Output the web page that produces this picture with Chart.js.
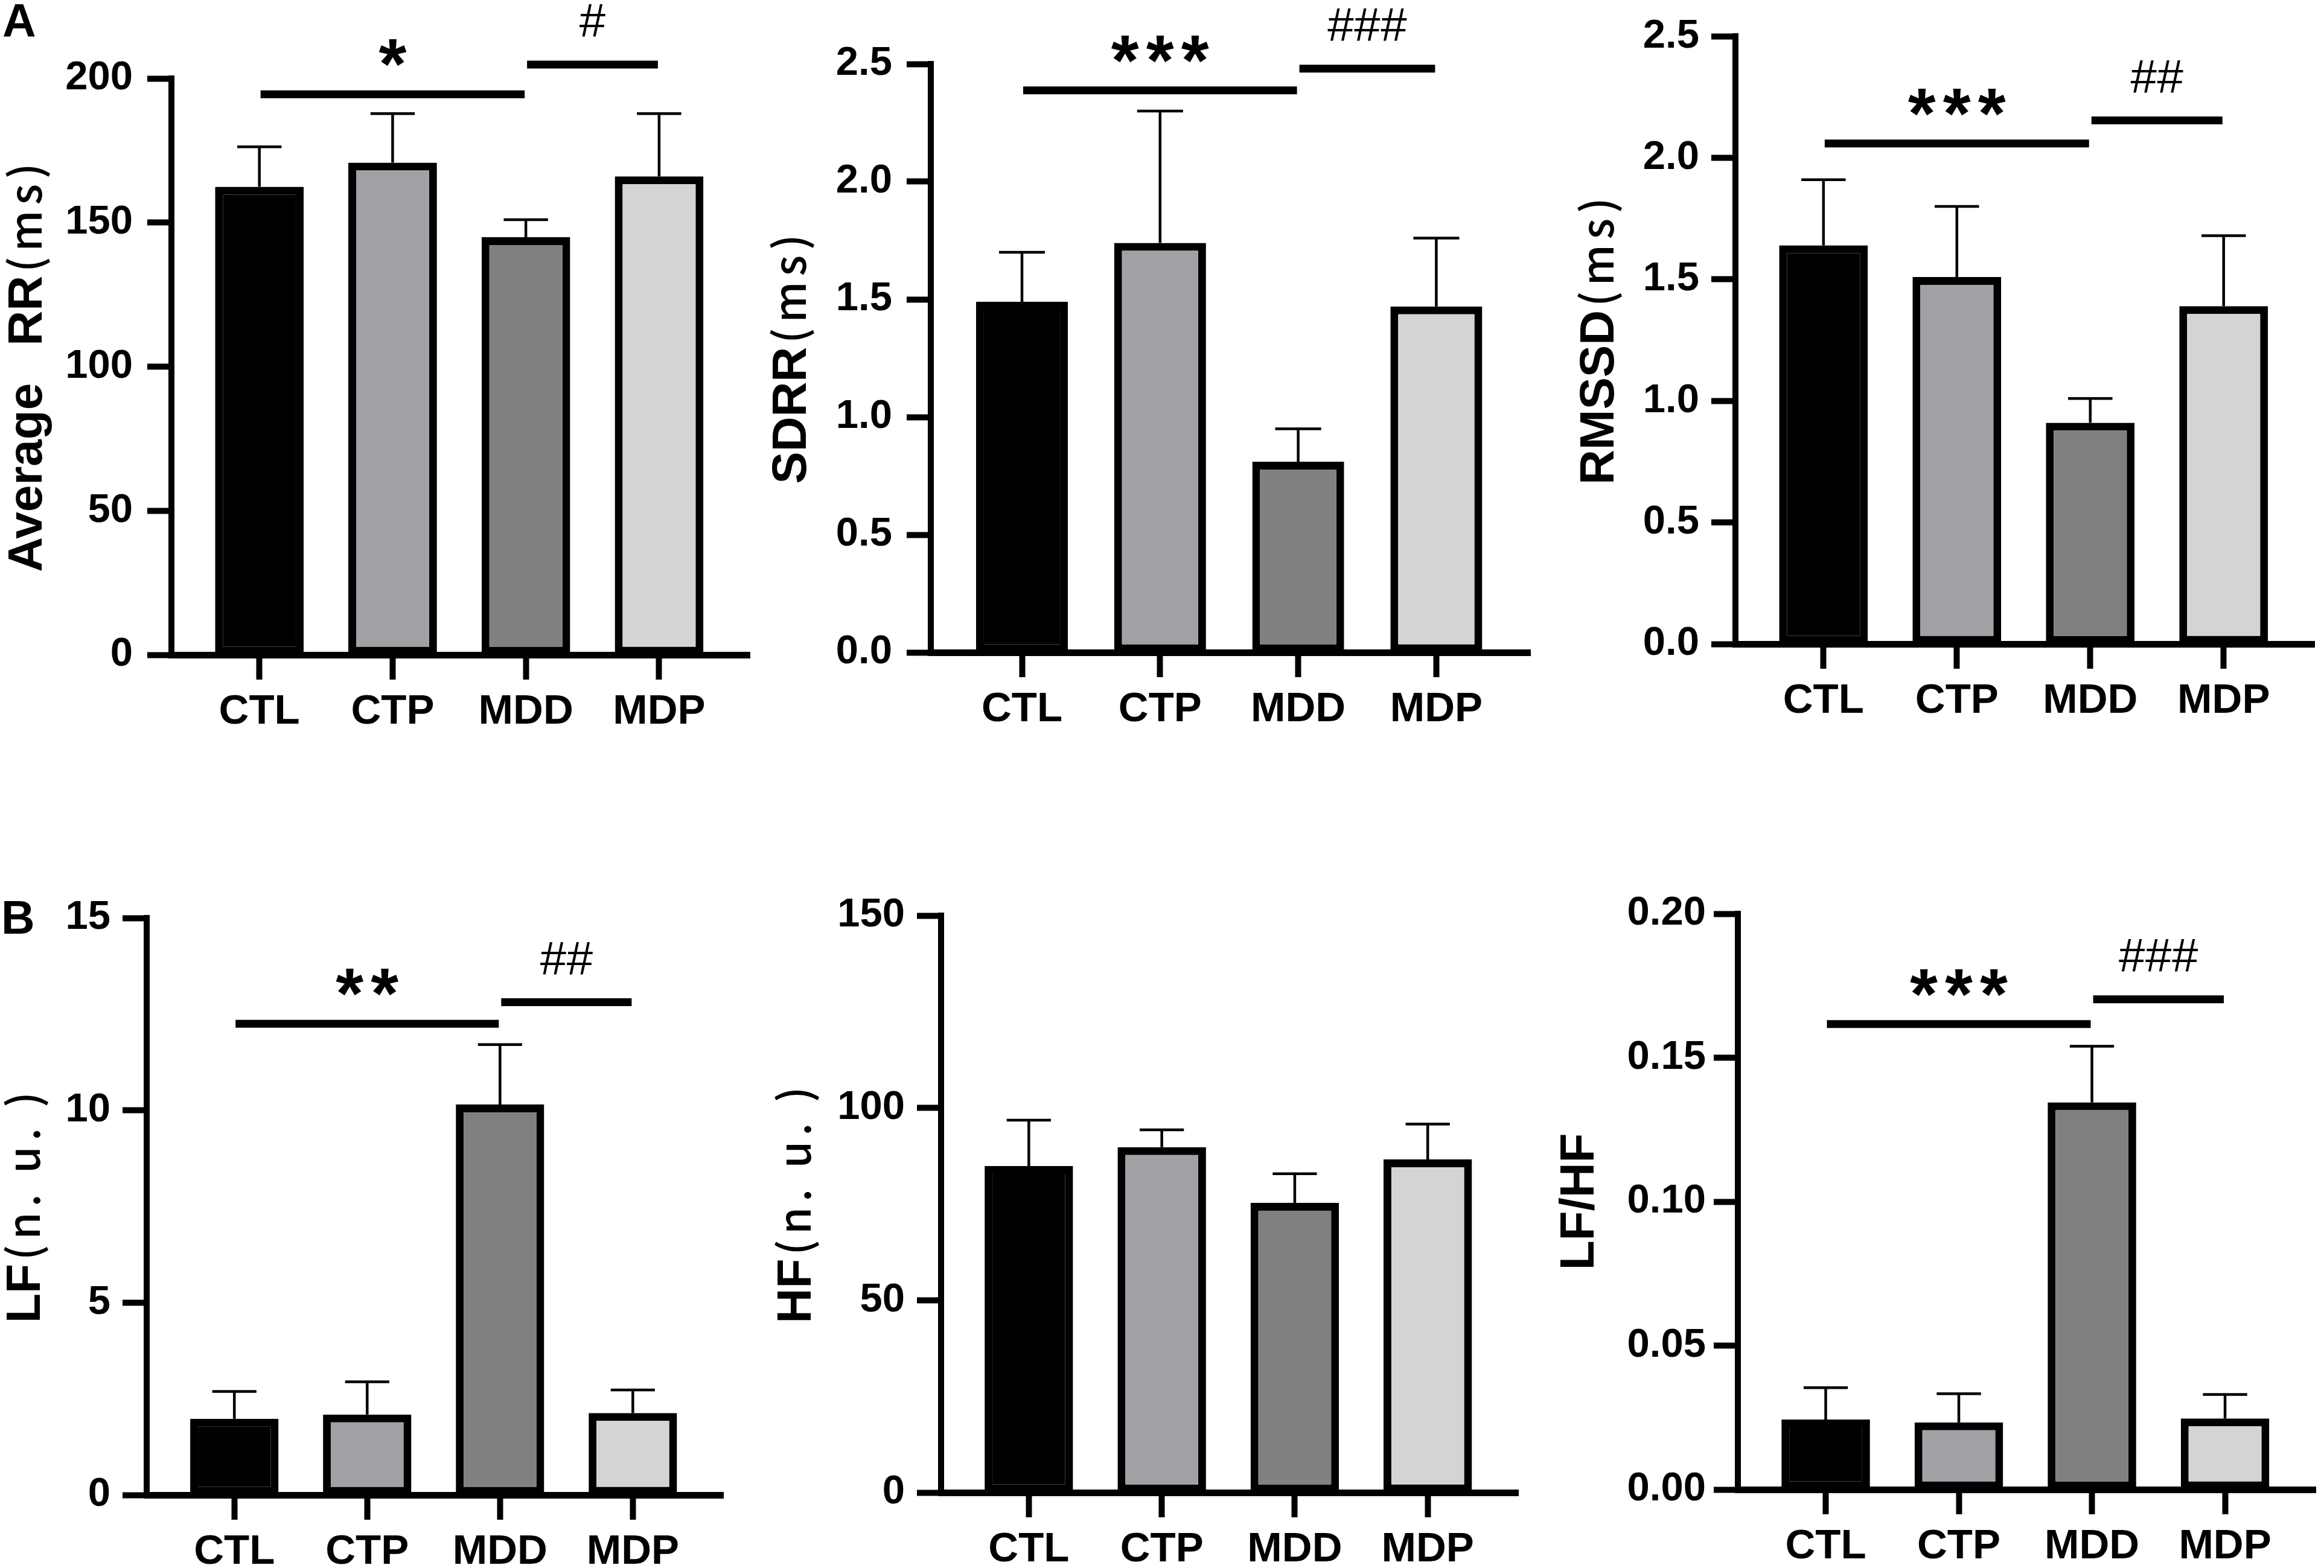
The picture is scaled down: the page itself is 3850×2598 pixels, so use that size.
<!DOCTYPE html>
<html>
<head>
<meta charset="utf-8">
<script src="https://cdn.jsdelivr.net/npm/chart.js@4.4.1/dist/chart.umd.min.js"></script>
<style>
    html, body { margin: 0; padding: 0; background: #fff; }
    #fig { position: relative; width: 3850px; height: 2598px; background: #fff; overflow: hidden; }
    #fig canvas { position: absolute; }
    .tag { position: absolute; font: bold 77px "Liberation Sans", Arial, sans-serif; line-height: 1; color: #000; }
</style>
</head>
<body>
<div id="fig">
    <div class="tag" style="left:4px;top:-4px">A</div>
    <div class="tag" style="left:2px;top:1482px">B</div>
</div>
<script>
// grupos e cores
const groups = ["CTL", "CTP", "MDD", "MDP"];
const fills = ["#000000", "#a1a1a5", "#808080", "#d4d4d4"];

// valores (média e desvio, só a barra de cima)
const avgRR = [162.4, 170.8, 144.9, 166.0];
const avgRRSd = [13.9, 17.0, 6.1, 21.8];
const avgRRTicks = [0, 50, 100, 150, 200];
const avgRRSig = [
    { from: 0, to: 2, y: 194.5, text: "*" },
    { from: 2, to: 3, y: 204.8, text: "#" },
];

const sdrr = [1.49, 1.74, 0.81, 1.47];
const sdrrSd = [0.21, 0.56, 0.14, 0.29];
const sdrrTicks = [0, 0.5, 1.0, 1.5, 2.0, 2.5];
const sdrrSig = [
    { from: 0, to: 2, y: 2.388, text: "***" },
    { from: 2, to: 3, y: 2.48, text: "###" },
];

const rmssd = [1.64, 1.51, 0.91, 1.39];
const rmssdSd = [0.27, 0.29, 0.10, 0.29];
const rmssdTicks = [0, 0.5, 1.0, 1.5, 2.0, 2.5];
const rmssdSig = [
    { from: 0, to: 2, y: 2.059, text: "***" },
    { from: 2, to: 3, y: 2.154, text: "##" },
];

const lf = [1.98, 2.09, 10.15, 2.13];
const lfSd = [0.71, 0.85, 1.56, 0.60];
const lfTicks = [0, 5, 10, 15];
const lfSig = [
    { from: 0, to: 2, y: 12.25, text: "**" },
    { from: 2, to: 3, y: 12.81, text: "##" },
];

const hf = [84.9, 89.8, 75.3, 86.6];
const hfSd = [11.9, 4.5, 7.6, 9.2];
const hfTicks = [0, 50, 100, 150];
const hfSig = [];

const lfhf = [0.0243, 0.0233, 0.1345, 0.0247];
const lfhfSd = [0.0111, 0.0100, 0.0195, 0.0083];
const lfhfTicks = [0, 0.05, 0.10, 0.15, 0.20];
const lfhfSig = [
    { from: 0, to: 2, y: 0.1617, text: "***" },
    { from: 2, to: 3, y: 0.1703, text: "###" },
];

// títulos do eixo y: [texto, negrito?]
const avgRRTitle = [["Average\u2002 RR", true], ["(ms)", false]];
const sdrrTitle = [["SDRR", true], ["(ms)", false]];
const rmssdTitle = [["RMSSD", true], ["(ms)", false]];
const lfTitle = [["LF", true], ["(n. u. )", false]];
const hfTitle = [["HF", true], ["(n. u. )", false]];
const lfhfTitle = [["LF/HF", true]];

const FONT = '"Liberation Sans", Arial, sans-serif';
const FONT_CJK = '"Noto Sans CJK SC", "Liberation Sans", sans-serif';

// layout de cada painel (pixels da página)
const panels = [
    { mean: avgRR, sd: avgRRSd, ticks: avgRRTicks, dec: 0, sig: avgRRSig, title: avgRRTitle, titleX: 40, pad: 24,
      cx: 0, cy: 0, cw: 1265, ch: 1290, left: 284, top: 130, right: 1242, bottom: 1085 },
    { mean: sdrr, sd: sdrrSd, ticks: sdrrTicks, dec: 1, sig: sdrrSig, title: sdrrTitle, titleX: 1306, pad: 24,
      cx: 1265, cy: 0, cw: 1315, ch: 1290, left: 1542, top: 106, right: 2535, bottom: 1081 },
    { mean: rmssd, sd: rmssdSd, ticks: rmssdTicks, dec: 1, sig: rmssdSig, title: rmssdTitle, titleX: 2644, pad: 20,
      cx: 2580, cy: 0, cw: 1270, ch: 1290, left: 2875, top: 60, right: 3834, bottom: 1067 },
    { mean: lf, sd: lfSd, ticks: lfTicks, dec: 0, sig: lfSig, title: lfTitle, titleX: 37, pad: 20,
      cx: 0, cy: 1290, cw: 1265, ch: 1308, left: 243, top: 1521, right: 1198, bottom: 2477 },
    { mean: hf, sd: hfSd, ticks: hfTicks, dec: 0, sig: hfSig, title: hfTitle, titleX: 1314, pad: 20,
      cx: 1265, cy: 1290, cw: 1315, ch: 1308, left: 1559, top: 1517, right: 2515, bottom: 2473 },
    { mean: lfhf, sd: lfhfSd, ticks: lfhfTicks, dec: 2, sig: lfhfSig, title: lfhfTitle, titleX: 2611, pad: 13,
      cx: 2580, cy: 1290, cw: 1270, ch: 1308, left: 2879, top: 1514, right: 3836, bottom: 2468 },
];

// asteriscos / cerquilhas centrados, com a base do glifo em bottomY
function drawMark(ctx, text, cx, bottomY) {
    const star = text[0] === "*";
    ctx.font = (star ? "bold 118px " : "78px ") + FONT;
    const pitch = star ? 58 : 44;
    const m = ctx.measureText(text[0]);
    const yb = bottomY - m.actualBoundingBoxDescent;
    ctx.textAlign = "center";
    ctx.textBaseline = "alphabetic";
    const n = text.length;
    for (let k = 0; k < n; k++) {
        ctx.fillText(text[k], cx + (k - (n - 1) / 2) * pitch, yb);
    }
}

function runFont(bold) {
    return bold ? "bold 80px " + FONT : "500 72px " + FONT_CJK;
}

const decor = {
    id: "decor",
    afterDatasetsDraw(chart, args, opts) {
        const ctx = chart.ctx;
        const xs = chart.scales.x;
        const ys = chart.scales.y;
        const meta = chart.getDatasetMeta(0);
        ctx.save();
        ctx.strokeStyle = "#000";
        ctx.fillStyle = "#000";

        // barras de erro
        ctx.lineWidth = 4.5;
        opts.sd.forEach((s, i) => {
            const bar = meta.data[i];
            const top = ys.getPixelForValue(opts.mean[i] + s);
            const half = bar.width / 4;
            ctx.beginPath();
            ctx.moveTo(bar.x, bar.y);
            ctx.lineTo(bar.x, top);
            ctx.moveTo(bar.x - half, top);
            ctx.lineTo(bar.x + half, top);
            ctx.stroke();
        });

        // linhas de significância
        ctx.lineWidth = 13;
        ctx.lineCap = "butt";
        opts.sig.forEach((s) => {
            const x1 = xs.getPixelForValue(s.from) + 2;
            const x2 = xs.getPixelForValue(s.to) - 2;
            const yy = ys.getPixelForValue(s.y);
            ctx.beginPath();
            ctx.moveTo(x1, yy);
            ctx.lineTo(x2, yy);
            ctx.stroke();
            drawMark(ctx, s.text, (x1 + x2) / 2, yy - 46);
        });

        // título do eixo y, girado
        const cap = 80 * 0.716;
        const cy = (chart.chartArea.top + chart.chartArea.bottom) / 2;
        ctx.translate(opts.titleX, cy);
        ctx.rotate(-Math.PI / 2);
        ctx.textAlign = "left";
        ctx.textBaseline = "alphabetic";
        const largura = ([t, b]) => {
            ctx.font = runFont(b);
            ctx.letterSpacing = b ? "0px" : "9px";
            return ctx.measureText(t).width;
        };
        const total = opts.title.reduce((acc, r) => acc + largura(r), 0);
        let x = -total / 2;
        opts.title.forEach((r) => {
            const w = largura(r);
            ctx.fillText(r[0], x + (r[1] ? 0 : 6), cap / 2);
            x += w;
        });
        ctx.restore();
    },
};

const fig = document.getElementById("fig");

function criarGrafico(p) {
    const cv = document.createElement("canvas");
    cv.width = p.cw;
    cv.height = p.ch;
    cv.style.left = p.cx + "px";
    cv.style.top = p.cy + "px";
    cv.style.width = p.cw + "px";
    cv.style.height = p.ch + "px";
    fig.appendChild(cv);

    const axisGrid = { drawOnChartArea: false, tickWidth: 10, tickColor: "#000", offset: false };

    new Chart(cv, {
        type: "bar",
        data: {
            datasets: [
                {
                    data: p.mean.map((v, i) => ({ x: i, y: v })),
                    backgroundColor: fills,
                    borderColor: "#000",
                    borderWidth: 13,
                    borderSkipped: false,
                    barPercentage: 0.665,
                    categoryPercentage: 1,
                },
            ],
        },
        options: {
            responsive: false,
            animation: false,
            devicePixelRatio: 1,
            layout: {
                padding: { left: 0, top: p.top - p.cy, right: p.cx + p.cw - p.right, bottom: 0 },
            },
            plugins: {
                legend: { display: false },
                tooltip: { enabled: false },
                decor: { mean: p.mean, sd: p.sd, sig: p.sig, title: p.title, titleX: p.titleX - p.cx },
            },
            scales: {
                x: {
                    type: "linear",
                    offset: false,
                    min: -0.66,
                    max: 3.68,
                    afterBuildTicks: (s) => {
                        s.ticks = groups.map((g, i) => ({ value: i }));
                    },
                    afterFit: (s) => {
                        s.height = p.cy + p.ch - p.bottom;
                    },
                    ticks: {
                        callback: (v) => groups[v],
                        font: { family: FONT, weight: "bold", size: 69 },
                        color: "#000",
                        padding: 13,
                        autoSkip: false,
                        maxRotation: 0,
                    },
                    grid: { ...axisGrid, tickLength: 41 },
                    border: { color: "#000", width: 11 },
                },
                y: {
                    min: 0,
                    max: p.ticks[p.ticks.length - 1],
                    afterBuildTicks: (s) => {
                        s.ticks = p.ticks.map((v) => ({ value: v }));
                    },
                    afterFit: (s) => {
                        s.width = p.left - p.cx;
                    },
                    ticks: {
                        callback: (v) => Number(v).toFixed(p.dec),
                        font: { family: FONT, weight: "bold", size: 67 },
                        color: "#000",
                        padding: p.pad,
                    },
                    grid: { ...axisGrid, tickLength: 40 },
                    border: { color: "#000", width: 10 },
                },
            },
        },
        plugins: [decor],
    });
}

panels.forEach(criarGrafico);
</script>
</body>
</html>
